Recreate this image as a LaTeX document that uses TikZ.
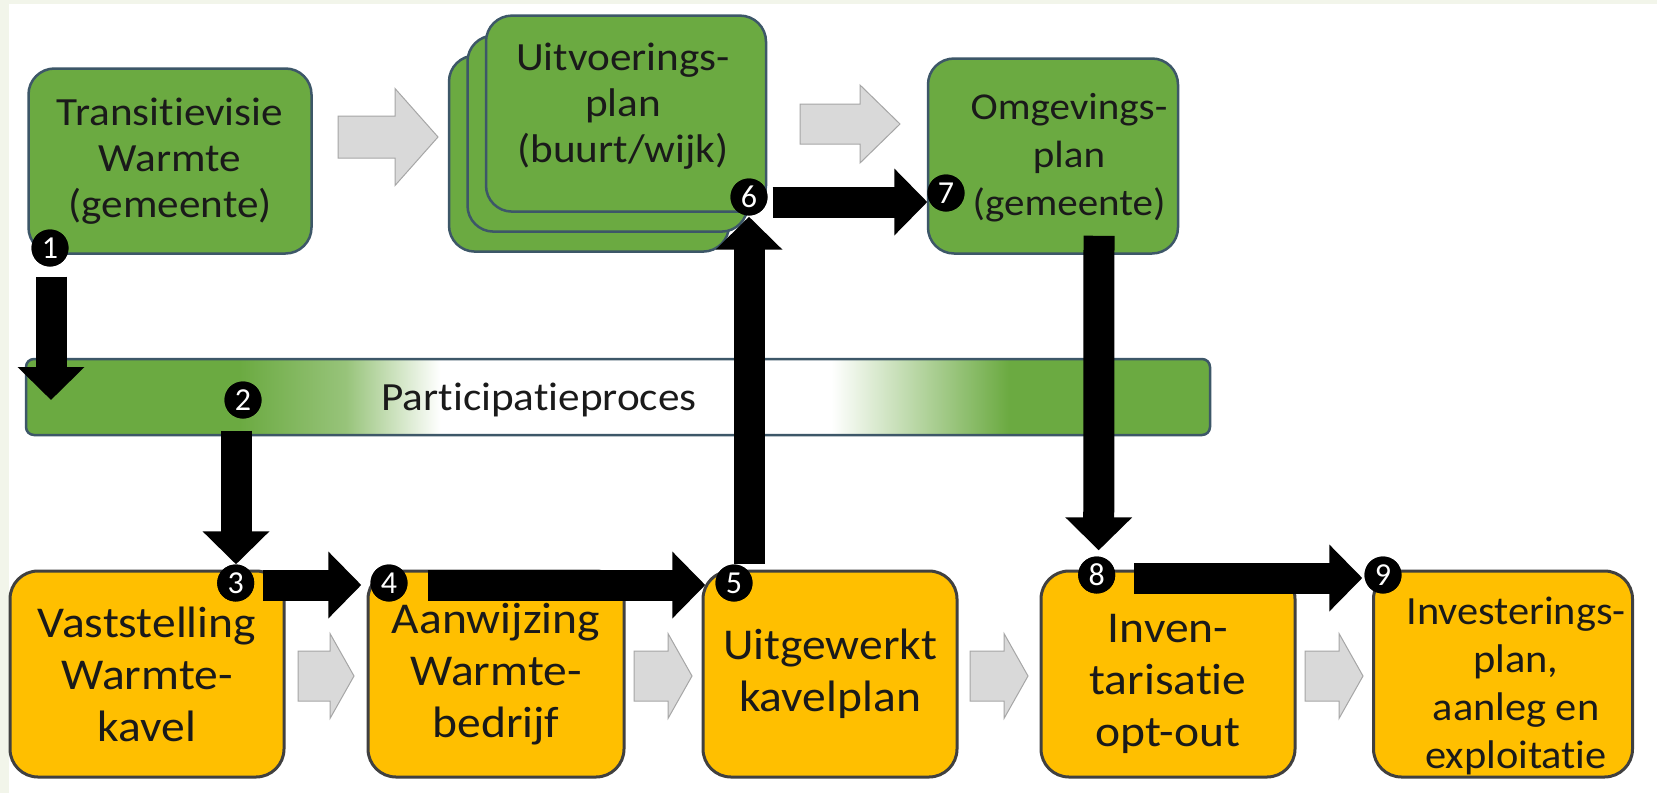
\documentclass[tikz,border=0pt]{standalone}
\usepackage{fontspec}
\setmainfont[Ligatures=NoCommon]{Carlito}
\newfontfamily\carw[FakeStretch=1.08,Ligatures=NoCommon]{Carlito}
\newfontfamily\carb[FakeStretch=1.08,Ligatures=NoCommon]{Carlito}
\newfontfamily\carn[FakeStretch=1.06,Ligatures=NoCommon]{Carlito}
\usetikzlibrary{arrows.meta,calc}
\definecolor{gfill}{HTML}{6BAA41}
\definecolor{gedge}{HTML}{3D5768}
\definecolor{ofill}{HTML}{FFBF00}
\definecolor{oedge}{HTML}{404040}
\definecolor{afill}{HTML}{D9D9D9}
\definecolor{aedge}{HTML}{A6A6A6}
\definecolor{bgc}{HTML}{F2F5EA}
\definecolor{txt}{HTML}{1A1A1A}
\colorlet{gmid}{gfill!70!white}
\pgfdeclarehorizontalshading{partshade}{100bp}{color(0bp)=(gfill); color(34bp)=(gfill); color(38.5bp)=(gmid); color(42.5bp)=(white); color(59bp)=(white); color(66.5bp)=(gfill); color(100bp)=(gfill)}
\newcommand\tfnt{\carw\fontsize{40}{46}\selectfont}
\newcommand\bfnt{\carb\fontsize{44}{52}\selectfont}
\newcommand\mkfnt{\fontsize{32}{32}\selectfont}
\newcommand\grarrow[6]{%
 \filldraw[fill=afill,draw=aedge,line width=1pt,line join=miter] (#1,#2-#5/2) -- (#1+#3-#4,#2-#5/2) -- (#1+#3-#4,#2-#6/2) -- (#1+#3,#2) -- (#1+#3-#4,#2+#6/2) -- (#1+#3-#4,#2+#5/2) -- (#1,#2+#5/2) -- cycle;}
\begin{document}
\begin{tikzpicture}[x=1pt,y=-1pt,
 gbox/.style={draw=gedge,line width=2.5pt,fill=gfill,rounded corners=26pt,inner sep=0pt,align=center,font=\tfnt,text=txt},
 obox/.style={draw=oedge,line width=3pt,fill=ofill,rounded corners=28pt,inner sep=0pt,align=center,font=\bfnt,text=txt},
 otext/.style={align=center,font=\bfnt,text=txt,inner sep=0pt},
 mk/.style={circle,fill=black,text=white,inner sep=0pt,minimum size=37pt,font=\mkfnt},
 blk/.style={line width=31pt,-{Triangle[length=33pt,width=65pt]}},
]
\fill[white] (0,0) rectangle (1657,793);
\fill[bgc] (0,0) rectangle (9,793);
\fill[bgc] (0,0) rectangle (1657,4);
\useasboundingbox (0,0) rectangle (1657,793);

% top green boxes
\node[gbox,minimum width=283pt,minimum height=185pt] (tv) at (170,161) {Transitievisie\\Warmte\\(gemeente)};
\node[gbox,minimum width=280pt,minimum height=196pt] (up3) at (589,153.6) {};
\node[gbox,minimum width=280pt,minimum height=196pt] (up2) at (607.5,133.6) {};
\node[gbox,minimum width=280pt,minimum height=196pt] (up) at (626,113.6) {};
\node[font=\tfnt,text=txt,align=center] (upt) at (623,106) {Uitvoerings-\\plan\\(buurt/wijk)};
\node[gbox,minimum width=250pt,minimum height=195pt] (om) at (1053,156) {};
\node[font=\carw\fontsize{38}{48}\selectfont,text=txt,align=center,inner sep=0pt] (omt) at (1069,158) {Omgevings-\\plan\\(gemeente)};

% participation bar
\node[draw=gedge,line width=2.5pt,shading=partshade,rounded corners=8pt,minimum width=1184pt,minimum height=76pt,inner sep=0pt] (bar) at (618,397) {};
\node[font=\tfnt,text=txt] (bart) at (539,400) {Participatieproces};

% bottom orange boxes
\node[obox,minimum width=274pt,minimum height=206pt] (vk) at (147,674) {Vaststelling\\Warmte-\\kavel};
\node[obox,minimum width=256pt,minimum height=206pt] (aw) at (496,674) {Aanwijzing\\Warmte-\\bedrijf};
\node[obox,minimum width=254pt,minimum height=206pt] (uk) at (830,674) {Uitgewerkt\\kavelplan};
\node[obox,minimum width=254pt,minimum height=206pt] (io) at (1168,674) {};
\node[otext] (iot) at (1168,684) {Inven-\\tarisatie\\opt-out};
\node[obox,minimum width=259pt,minimum height=206pt] (ip) at (1503,674) {};
\node[otext,font=\carn\fontsize{40}{48}\selectfont] (ipt) at (1516,686) {Investerings-\\plan,\\aanleg en\\exploitatie};

% gray arrows
\grarrow{338}{137}{100}{43}{42}{97}
\grarrow{800}{124}{100}{40}{40}{78}
\grarrow{298}{676}{56}{24}{50}{85}
\grarrow{634}{676}{58}{24}{50}{85}
\grarrow{970}{676}{58}{24}{50}{85}
\grarrow{1305}{676}{58}{24}{50}{85}

% markers
\node[mk] (m1) at (50,248) {1};
\node[mk] (m2) at (243,400) {2};
\node[mk] (m3) at (235.7,583) {3};
\node[mk] (m4) at (389,583) {4};
\node[mk] (m5) at (734,583) {5};
\node[mk] (m6) at (749,197) {6};
\node[mk] (m7) at (946,193) {7};
\node[mk] (m8) at (1096.7,575) {8};
\node[mk] (m9) at (1383,575) {9};
\coordinate (c1) at (51,400);

% black arrows
\draw[blk] ([xshift=1pt,yshift=-10pt]m1.south) -- (c1);
\draw[blk] ($(m2.south)+(-7,12)$) -- ($(m2.south |- m3.north)+(-7,0)$);
\draw[blk] ([xshift=9pt,yshift=-2pt]m3.east) -- ([xshift=-9pt,yshift=-2pt]m4.west);
\draw[blk] ([xshift=20pt,yshift=-2pt]m4.east) -- ([xshift=-10pt,yshift=-2pt]m5.west);
\draw[blk] ([xshift=19pt,yshift=-3pt]m8.east) -- ([xshift=-2pt,yshift=-3pt]m9.west);
\draw[blk] ([xshift=5pt,yshift=-5pt]m6.east) -- ([xshift=0pt,yshift=-9pt]m7.west);
\draw[blk] (m5.north -| m6) -- ([yshift=-1pt]m6.south);
\draw[blk] ([xshift=46pt,yshift=19pt]om.south) -- ([xshift=2pt,yshift=6pt]m8.north);

% markers on top
\foreach \m/\t in {m1/1,m2/2,m3/3,m4/4,m5/5,m6/6,m7/7,m8/8,m9/9}
  \node[mk] at (\m) {\t};
\end{tikzpicture}
\end{document}
